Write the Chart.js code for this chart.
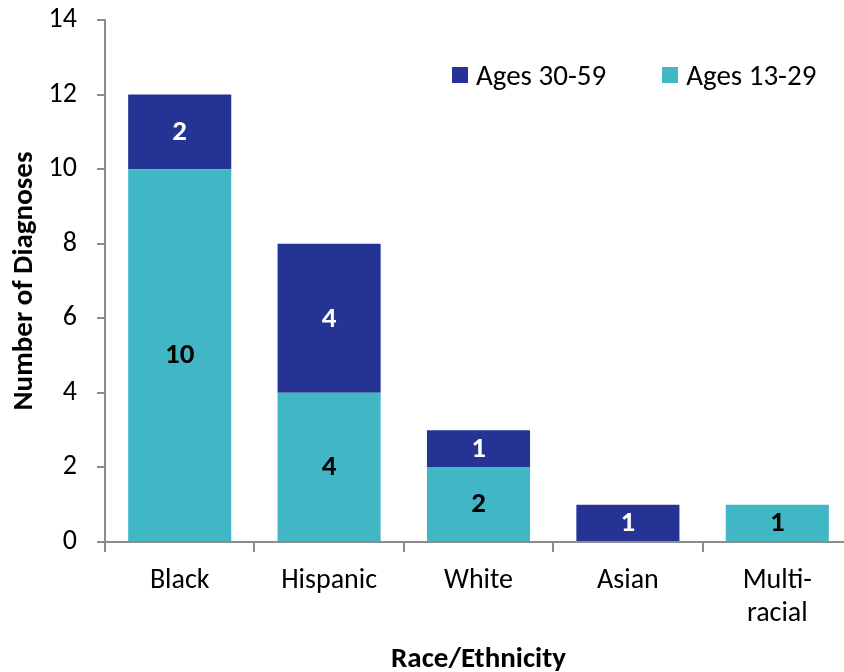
<!DOCTYPE html>
<html>
<head>
<meta charset="utf-8">
<script src="https://cdn.jsdelivr.net/npm/chart.js@4/dist/chart.umd.min.js"></script>
<style>
  html, body { margin: 0; padding: 0; background: #fff; overflow: hidden; }
  #wrap { position: relative; width: 856px; height: 672px; }
  .legend { position: absolute; top: 58px; left: 452px; font-family: Carlito, Calibri, Lato, sans-serif; font-size: 29px; line-height: 34px; color: #000; display: flex; white-space: nowrap; }
  .legend span { display: flex; align-items: center; margin-right: 56px; }
  .legend i { display: inline-block; width: 16px; height: 16px; margin-right: 8px; }
</style>
</head>
<body>
<div id="wrap">
  <canvas id="chart"></canvas>
  <div class="legend" id="legend"></div>
</div>
<script>
// data
const categories = ['Black', 'Hispanic', 'White', 'Asian', ['Multi-', 'racial']];
const ages13to29 = [10, 4, 2, 0, 1];
const ages30to59 = [2, 4, 1, 1, 0];
const yTicks     = [0, 2, 4, 6, 8, 10, 12, 14];

const TEAL = '#41B6C4';
const NAVY = '#253494';
const AXIS = '#8c8c8c';
const FONT = 'Carlito, Calibri, Lato, sans-serif';

// legend (HTML so it can sit inside the plot area like the original)
document.getElementById('legend').innerHTML =
  `<span><i style="background:${NAVY}"></i>Ages 30-59</span>` +
  `<span><i style="background:${TEAL}"></i>Ages 13-29</span>`;

// value labels centred in each segment
const barLabels = {
  id: 'barLabels',
  afterDatasetsDraw(chart) {
    const ctx = chart.ctx;
    ctx.save();
    ctx.font = `bold 29px ${FONT}`;
    ctx.textAlign = 'center';
    ctx.textBaseline = 'middle';
    chart.data.datasets.forEach((ds, i) => {
      chart.getDatasetMeta(i).data.forEach((bar, j) => {
        const v = ds.data[j];
        if (!v) return;
        const p = bar.getProps(['x', 'y', 'base'], true);
        ctx.fillStyle = ds.labelColor;
        ctx.fillText(String(v), p.x, (p.y + p.base) / 2 + 1);
      });
    });
    ctx.restore();
  }
};

new Chart(document.getElementById('chart'), {
  type: 'bar',
  data: {
    labels: categories,
    datasets: [
      { label: 'Ages 13-29', data: ages13to29, backgroundColor: TEAL, labelColor: '#000', borderWidth: 0 },
      { label: 'Ages 30-59', data: ages30to59, backgroundColor: NAVY, labelColor: '#fff', borderWidth: 0 },
    ],
  },
  options: {
    responsive: true,
    maintainAspectRatio: false,
    animation: false,
    categoryPercentage: 0.69,
    barPercentage: 1,
    layout: { padding: { top: 20, right: 4, left: 0, bottom: 0 } },
    plugins: { legend: { display: false }, tooltip: { enabled: false } },
    scales: {
      x: {
        stacked: true,
        afterFit: axis => { axis.height = 130; },
        border: { color: AXIS, width: 2 },
        grid: { offset: true, drawOnChartArea: false, drawTicks: true, tickLength: 10, color: AXIS, lineWidth: 2 },
        ticks: { color: '#000', font: { family: FONT, size: 28, lineHeight: 1.18 }, padding: 12 },
        title: { display: true, text: 'Race/Ethnicity', color: '#000', font: { family: FONT, size: 29, weight: 'bold', lineHeight: 1 }, padding: { top: 0, bottom: -2 } },
      },
      y: {
        stacked: true,
        min: 0,
        max: 14,
        afterBuildTicks: axis => { axis.ticks = yTicks.map(v => ({ value: v })); },
        afterFit: axis => { axis.width = 105; axis.paddingTop = 0; axis.paddingBottom = 0; },
        border: { color: AXIS, width: 2 },
        grid: { drawOnChartArea: false, drawTicks: true, tickLength: 8, color: AXIS, lineWidth: 2 },
        ticks: { color: '#000', font: { family: FONT, size: 28, lineHeight: 1 }, padding: 20 },
        title: { display: true, text: 'Number of Diagnoses', color: '#000', font: { family: FONT, size: 29, weight: 'bold', lineHeight: 1 }, padding: { top: 10, bottom: 0 } },
      },
    },
  },
  plugins: [barLabels],
});
</script>
</body>
</html>
